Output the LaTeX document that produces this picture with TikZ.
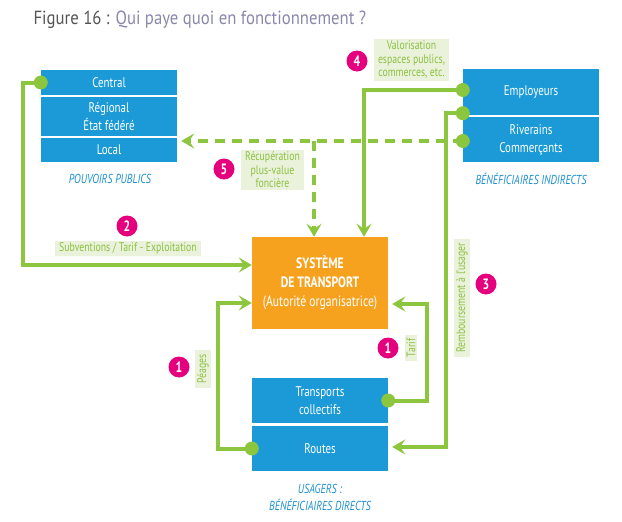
\documentclass[tikz,border=0pt]{standalone}
\usepackage{fontspec}
\setmainfont{PT Sans}[FakeStretch=0.78]
\newfontfamily\titlefont{PT Sans}[FakeStretch=0.88]
\usetikzlibrary{arrows.meta,calc}
\definecolor{boxblue}{HTML}{1B9AD7}
\definecolor{sysorange}{HTML}{F6A21E}
\definecolor{flowgreen}{HTML}{8CC63F}
\definecolor{tagbg}{HTML}{EAF2DC}
\definecolor{taggreen}{HTML}{8CC041}
\definecolor{numpink}{HTML}{E5007D}
\definecolor{capblue}{HTML}{1D8FD1}
\definecolor{titlegray}{HTML}{555555}
\definecolor{titlepurple}{HTML}{8A87AB}
\tikzset{
  box/.style={rectangle, fill=boxblue, text=white, minimum width=136pt, inner sep=0pt, align=center, font=\fontsize{14}{18}\selectfont},
  flow/.style={draw=flowgreen, line width=4pt},
  tip/.style={-{Stealth[length=13pt,width=15pt,inset=5pt]}},
  dash flow/.style={flow, dash pattern=on 10pt off 7pt},
  dot/.style={circle, fill=flowgreen, minimum size=14pt, inner sep=0pt},
  num/.style={circle, fill=numpink, text=white, minimum size=21pt, inner sep=0pt, font=\bfseries\fontsize{15}{15}\selectfont},
  tag/.style={fill=tagbg, text=taggreen, inner xsep=4pt, inner ysep=2pt, align=center, font=\fontsize{12.5}{13.5}\selectfont},
  caption/.style={text=capblue, align=center, font=\itshape\fontsize{13}{17}\selectfont}
}

\begin{document}
\begin{tikzpicture}[x=1pt, y=-1pt]
  \useasboundingbox (0,0) rectangle (622,522);
  \node (title) [anchor=west, font=\titlefont\fontsize{19}{22}\selectfont] at (30,20) {\textcolor{titlegray}{Figure 16 :} \textcolor{titlepurple}{Qui paye quoi en fonctionnement ?}};

  % pouvoirs publics
  \node (central) at (109,82.5) [box, minimum height=25pt, node contents={Central}];
  \node (regional) at (109,116.5) [box, minimum height=39pt, node contents={Régional\\État fédéré}];
  \node (local) at (109,150) [box, minimum height=24pt, node contents={Local}];
  \node (pouvoirs) at (110,179) [caption, node contents={POUVOIRS PUBLICS}];

  % beneficiaires indirects
  \node (employeurs) at (531,92) [box, minimum height=46pt, node contents={Employeurs}];
  \node (riverains) at (531,139.5) [box, minimum height=45pt, node contents={Riverains\\Commerçants}];
  \node (indirects) at (531,179) [caption, node contents={BÉNÉFICIAIRES INDIRECTS}];

  \node (systeme) at (320,283) [box, fill=sysorange, minimum height=92pt, font=\fontsize{15}{19}\selectfont, node contents={\textbf{SYSTÈME}\\\textbf{DE TRANSPORT}\\(Autorité organisatrice)}];

  % usagers
  \node (transports) at (320,400.5) [box, minimum height=45pt, node contents={Transports\\collectifs}];
  \node (routes) at (320,448.5) [box, minimum height=45pt, node contents={Routes}];
  \node (usagers) at (320,497.5) [caption, node contents={USAGERS :\\BÉNÉFICIAIRES DIRECTS}];

  \coordinate (split) at ($(systeme.north |- riverains.west)+(-6,1.5)$);
  \draw[dash flow, tip] ($(riverains.west)+(0,1.5)$) -- ($(local.east |- split)+(4,0)$);
  \draw[dash flow, tip] (split) -- ($(systeme.north)+(-6,0)$);
  \draw[flow, tip] (central.west) -- ++(-18,0) |- ($(systeme.west)+(0,-18)$);
  \draw[flow, tip] ($(employeurs.west)+(0,-2)$) -| ($(systeme.north)+(44,0)$);
  \draw[flow, tip] ($(employeurs.south west)+(0,-2)$) -- ++(-17,0) |- ($(routes.east)+(4,-1.5)$);
  \draw[flow, tip] (transports.east) -- ++(39,0) |- ($(systeme.east)+(4,21)$);
  \draw[flow, tip] (routes.west) -- ++(-34,0) |- ($(systeme.west)+(0,20)$);

  \node (d1) [dot] at (central.west) {};
  \node (d2) [dot] at ($(employeurs.west)+(0,-2)$) {};
  \node (d3) [dot] at ($(employeurs.south west)+(0,-2)$) {};
  \node (d4) [dot] at ($(riverains.west)+(0,1.5)$) {};
  \node (d5) [dot] at (transports.east) {};
  \node (d6) [dot] at (routes.west) {};

  \node (tag2) at (128,248.5) [tag, node contents={Subventions / Tarif - Exploitation}];
  \node (tag4) at (411.5,60) [tag, node contents={Valorisation\\espaces publics,\\commerces, etc.}];
  \node (tag5) at (272.5,170) [tag, node contents={Récupération\\plus-value\\foncière}];
  \node (tagpeages) at (203,369) [tag, rotate=90, node contents={Péages}];
  \node (tagtarif) at (411,348) [tag, rotate=90, node contents={Tarif}];
  \node (tag3) at (462,298) [tag, rotate=90, node contents={Remboursement à l'usager}];

  \node (n2) at (127,226) [num, node contents={2}];
  \node (n4) at (357,61) [num, node contents={4}];
  \node (n5) at (224,169) [num, node contents={5}];
  \node (n3) at (486,284) [num, node contents={3}];
  \node (n1a) at (179,367) [num, node contents={1}];
  \node (n1b) at (388,348) [num, node contents={1}];
\end{tikzpicture}
\end{document}
